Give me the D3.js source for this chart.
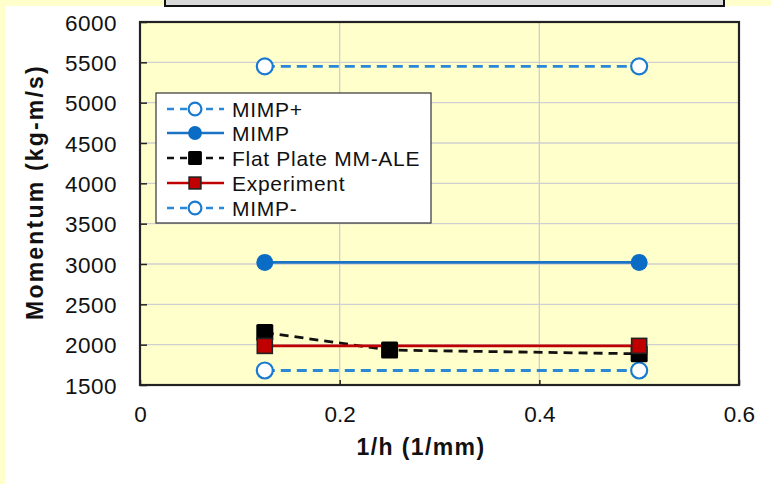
<!DOCTYPE html>
<html><head><meta charset="utf-8">
<script src="https://cdn.jsdelivr.net/npm/d3@7"></script>
<style>html,body{margin:0;padding:0;background:#ffffcc;}svg{display:block;}</style>
</head><body>
<svg id="c" width="771" height="484"></svg>
<script>
const xTicks = [0, 0.2, 0.4, 0.6];
const xTickLabels = ["0", "0.2", "0.4", "0.6"];
const yTicks = [1500, 2000, 2500, 3000, 3500, 4000, 4500, 5000, 5500, 6000];
const mimpPlusX = [0.125, 0.5];
const mimpPlusY = [5450, 5450];
const mimpX = [0.125, 0.5];
const mimpY = [3020, 3020];
const flatX = [0.125, 0.25, 0.5];
const flatY = [2150, 1933, 1887];
const expX = [0.125, 0.5];
const expY = [1985, 1985];
const mimpMinusX = [0.125, 0.5];
const mimpMinusY = [1680, 1680];
const legendLabels = ["MIMP+", "MIMP", "Flat Plate MM-ALE", "Experiment", "MIMP-"];

const svg = d3.select("#c");
const F = "'Liberation Sans', Arial, sans-serif";
svg.append("rect").attr("x",5).attr("y",6).attr("width",766).attr("height",478).attr("fill","#fff");
svg.append("rect").attr("x",165).attr("y",-3).attr("width",559).attr("height",9).attr("fill","#d9d9d9").attr("stroke","#111").attr("stroke-width",2);

const L=140, R=739, T=22, B=385;
const x = d3.scaleLinear().domain([0,0.6]).range([L,R]);
const y = d3.scaleLinear().domain([1500,6000]).range([B,T]);

svg.append("rect").attr("x",L).attr("y",T).attr("width",R-L).attr("height",B-T).attr("fill","#ffffcc");
// grid
svg.append("g").selectAll("line").data(yTicks.slice(1,-1)).join("line")
  .attr("x1",L).attr("x2",R).attr("y1",d=>y(d)).attr("y2",d=>y(d)).attr("stroke","#cfcfcf").attr("stroke-width",1.3);
svg.append("g").selectAll("line").data(xTicks.slice(1,-1)).join("line")
  .attr("y1",T).attr("y2",B).attr("x1",d=>x(d)).attr("x2",d=>x(d)).attr("stroke","#cfcfcf").attr("stroke-width",1.3);

// axes
const ya = d3.axisLeft(y).tickValues(yTicks).tickSize(-7).tickPadding(23).tickFormat(d3.format("d"));
const gy = svg.append("g").attr("transform",`translate(${L},0)`).call(ya);
gy.select(".domain").remove();
gy.selectAll(".tick line").attr("stroke","#222").attr("stroke-width",1.5);
gy.selectAll("text").attr("font-family",F).attr("font-size",22.5).attr("letter-spacing","0.5px").attr("fill","#111").attr("dy","0.36em");
const xa = d3.axisBottom(x).tickValues(xTicks).tickSize(-5).tickPadding(21).tickFormat((d,i)=>xTickLabels[i]);
const gx = svg.append("g").attr("transform",`translate(0,${B})`).call(xa);
gx.select(".domain").remove();
gx.selectAll(".tick line").attr("stroke","#222").attr("stroke-width",1.5);
gx.selectAll("text").attr("font-family",F).attr("font-size",22.5).attr("fill","#111").attr("dy","0.72em");

svg.append("rect").attr("x",L).attr("y",T).attr("width",R-L).attr("height",B-T).attr("fill","none").attr("stroke","#222").attr("stroke-width",2.2);

const line = d3.line().x(d=>x(d[0])).y(d=>y(d[1]));
const zip=(a,b)=>a.map((v,i)=>[v,b[i]]);
const series = [
  {xs:mimpPlusX, ys:mimpPlusY, color:"#2a88d8", dash:"10,6", marker:"ocircle", mc:"#1a7ad0"},
  {xs:mimpX, ys:mimpY, color:"#1a73c4", dash:null, marker:"circle", mc:"#0a6cc4"},
  {xs:flatX, ys:flatY, color:"#111", dash:"9,6", marker:"square", mc:"#000"},
  {xs:expX, ys:expY, color:"#c00000", dash:null, marker:"rsquare", mc:"#c00000"},
  {xs:mimpMinusX, ys:mimpMinusY, color:"#2a88d8", dash:"10,6", marker:"ocircle", mc:"#1a7ad0"}
];
function drawMarker(g, cx, cy, m, s, scale){
  const r = 8*scale;
  if(m==="ocircle") g.append("circle").attr("cx",cx).attr("cy",cy).attr("r",r).attr("fill","#fff").attr("stroke",s.mc).attr("stroke-width",2.2);
  else if(m==="circle") g.append("circle").attr("cx",cx).attr("cy",cy).attr("r",r+0.5).attr("fill",s.mc);
  else if(m==="square") g.append("rect").attr("x",cx-r-0.5).attr("y",cy-r-0.5).attr("width",2*r+1).attr("height",2*r+1).attr("rx",1.5).attr("fill","#000");
  else g.append("rect").attr("x",cx-r+0.5).attr("y",cy-r+0.5).attr("width",2*r-1).attr("height",2*r-1).attr("fill","#c00000").attr("stroke","#222").attr("stroke-width",1.6);
}
const order=[0,1,4,2,3];
order.forEach(i=>{
  const s=series[i];
  svg.append("path").datum(zip(s.xs,s.ys)).attr("d",line).attr("fill","none").attr("stroke",s.color)
    .attr("stroke-width",2.8).attr("stroke-dasharray",s.dash);
});
order.forEach(i=>{
  const s=series[i];
  const g=svg.append("g");
  zip(s.xs,s.ys).forEach(p=>drawMarker(g,x(p[0]),y(p[1]),s.marker,s,1));
});

// legend
const lg = svg.append("g");
lg.append("rect").attr("x",156).attr("y",93).attr("width",275).attr("height",130).attr("fill","#fff").attr("stroke","#333").attr("stroke-width",1.2);
const rowY=[109,133,158,183,208];
series.forEach((s,i)=>{
  const yy=rowY[i];
  lg.append("line").attr("x1",167).attr("x2",224).attr("y1",yy).attr("y2",yy).attr("stroke",s.color).attr("stroke-width",2.6)
    .attr("stroke-dasharray", s.dash? "7,6":null);
  drawMarker(lg,195,yy,s.marker,s,0.8);
  lg.append("text").attr("x",232).attr("y",yy+7.5).text(legendLabels[i]).attr("font-family",F).attr("font-size",21).attr("letter-spacing","0.7px").attr("fill","#111");
});

svg.append("text").attr("x",421).attr("y",455).attr("text-anchor","middle").attr("font-family",F).attr("font-weight","bold")
  .attr("font-size",23).attr("letter-spacing","1.4px").attr("fill","#111").text("1/h (1/mm)");
svg.append("text").attr("transform","translate(43,192) rotate(-90)").attr("text-anchor","middle").attr("font-family",F).attr("font-weight","bold")
  .attr("font-size",23).attr("letter-spacing","2.2px").attr("fill","#111").text("Momentum (kg-m/s)");
</script>
</body></html>
